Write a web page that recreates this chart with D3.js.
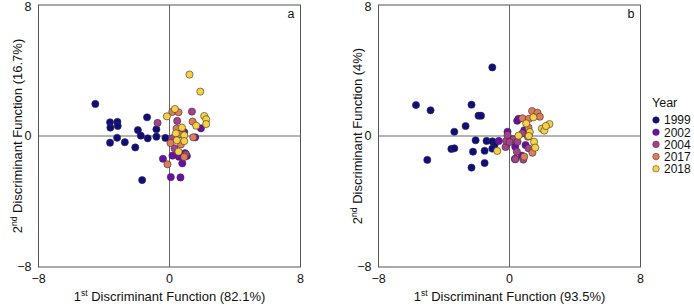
<!DOCTYPE html>
<meta charset="utf-8">
<style>
  body, html { margin:0; padding:0; background:#fff; }
  text { font-family: "Liberation Sans", Arial, Helvetica, sans-serif; fill:#111; }
</style>
<body>
<svg width="694" height="306"></svg>
<script src="https://d3js.org/d3.v7.min.js"></script>
<script>

var years = ["1999", "2002", "2004", "2017", "2018"];
var colors = ["#0f0c80", "#6c0ea8", "#a8408c", "#e07c5a", "#f8d040"];
var ticks = [-8, 0, 8];

// panel a : [DF1, DF2]
var a1999 = [[-4.53,1.96],[-3.63,0.84],[-3.18,0.86],[-3.61,0.51],[-3.16,0.61],[-1.37,1.14],[-1.93,0.36],[-1.75,0.02],
             [-0.8,0.41],[-0.8,-0.04],[-1.33,-0.14],[-0.25,-0.12],[-3.2,-0.11],[-3.63,-0.41],[-2.73,-0.38],[-2.09,-0.7],[-1.67,-2.69]];
var a2002 = [[-0.4,-1.39],[0.18,-1.2],[0.08,-2.51],[0.67,-2.53],[0.78,-1.67],[1.92,0.47],[0.57,-1.26],[1.57,-0.08],
             [0.9,0.24],[1.06,-1.22],[0.95,-1.05]];
var a2004 = [[-0.73,0.8],[1.37,1.49],[0.47,0.92],[0.31,-0.75],[1.0,-1.12],[0.15,-0.14],[0.8,0.2]];
var a2017 = [[0.17,1.47],[0.55,1.45],[1.41,0.88],[0.43,0.45],[0.06,-0.43],[-0.12,-1.73],[0.9,-1.28],[1.45,-0.08],
             [0.7,-0.51],[0.6,0.1]];
var a2018 = [[1.22,3.75],[1.88,2.71],[-0.16,1.2],[0.33,1.65],[2.12,1.22],[2.24,1.02],[2.24,0.73],[1.63,0.63],
             [0.76,0.51],[0.39,0.16],[0.9,0.04],[0.9,-0.31],[0.55,-0.96],[0.45,-0.26]];

// panel b
var b1999 = [[-5.71,1.89],[-4.82,1.57],[-1.05,4.19],[-2.32,1.91],[-1.89,1.24],[-1.74,1.24],[-2.68,0.61],[-3.37,0.26],
             [-2.07,-0.26],[-3.55,-0.79],[-3.37,-0.75],[-5.02,-1.46],[-2.23,-0.96],[-1.52,-0.9],[-2.32,-1.93],
             [-1.52,-1.65],[-1.4,-0.3],[-1.04,-0.33],[-0.91,-0.53],[-1.05,-0.77]];
var b2002 = [[-0.65,-0.3],[-0.12,0.26],[0.47,0.93],[0.55,1.05],[0.33,-1.4],[0.35,-0.65],[0.98,-0.55],[0.9,0.35],
             [0.15,-0.2],[0.75,-1.2]];
var b2004 = [[-0.24,-0.67],[-0.2,-0.3],[-0.12,0.06],[0.24,-0.2],[0,-0.37],[0.45,-0.96],[0.84,-1.44],[0.79,0.16],
             [1.16,-0.75],[0.49,-0.35],[0.35,-1.42]];
var b2017 = [[1.38,1.52],[1.71,1.42],[1.85,1.18],[0.79,1.08],[1.18,1.05],[0.9,-1.26],[1.16,0.51],[1.4,-1.02],[1.12,-0.04]];
var b2018 = [[1.02,0.77],[1.46,1.14],[1.24,0.24],[0.55,0.02],[1.18,0],[1.5,-0.35],[1.57,-0.71],[1.98,0.45],
             [2.13,0.33],[2.44,0.73],[2.22,0.61],[-0.75,-0.91]];

var panels = [
  { left: 38.5, label: "a", xpct: "82.1%", ypct: "16.7%", series: [a1999, a2002, a2004, a2017, a2018] },
  { left: 378.5, label: "b", xpct: "93.5%", ypct: "4%", series: [b1999, b2002, b2004, b2017, b2018] }
];

var svg = d3.select("svg");
var pw = 262, ph = 262, ptop = 5;

function fmt(d) { return d < 0 ? "\u2212" + (-d) : "" + d; }

panels.forEach(function(p) {
  var g = svg.append("g").attr("transform", "translate(" + p.left + "," + ptop + ")");
  var x = d3.scaleLinear().domain([-8, 8]).range([0, pw]);
  var y = d3.scaleLinear().domain([-8, 8]).range([ph, 0]);

  g.append("rect").attr("width", pw).attr("height", ph)
    .attr("fill", "none").attr("stroke", "#555").attr("stroke-width", 1);

  g.append("line").attr("x1", x(0)).attr("x2", x(0)).attr("y1", 0).attr("y2", ph)
    .attr("stroke", "#666").attr("stroke-width", 1);
  g.append("line").attr("x1", 0).attr("x2", pw).attr("y1", y(0)).attr("y2", y(0))
    .attr("stroke", "#666").attr("stroke-width", 1);

  g.selectAll(".xt").data(ticks).enter().append("text")
    .attr("x", function(d) { return x(d); }).attr("y", ph + 16)
    .attr("text-anchor", "middle").style("font-size", "12.5px").text(fmt);
  g.selectAll(".yt").data(ticks).enter().append("text")
    .attr("x", -7).attr("y", function(d) { return y(d) + (d == 8 ? 2 : 0); }).attr("dy", "0.35em")
    .attr("text-anchor", "end").style("font-size", "12.5px").text(fmt);

  var xl = g.append("text").attr("x", pw / 2).attr("y", ph + 34)
    .attr("text-anchor", "middle").style("font-size", "13px");
  xl.append("tspan").text("1");
  xl.append("tspan").attr("dy", -5).style("font-size", "8.5px").text("st");
  xl.append("tspan").attr("dy", 5).text(" Discriminant Function (" + p.xpct + ")");

  var yl = g.append("text").attr("transform", "translate(-17," + (ph / 2) + ") rotate(-90)")
    .attr("text-anchor", "middle").style("font-size", "13px");
  yl.append("tspan").text("2");
  yl.append("tspan").attr("dy", -5).style("font-size", "8.5px").text("nd");
  yl.append("tspan").attr("dy", 5).text(" Discriminant Function (" + p.ypct + ")");

  g.append("text").attr("x", pw - 6).attr("y", 13).attr("text-anchor", "end")
    .style("font-size", "12.5px").text(p.label);

  p.series.forEach(function(s, i) {
    g.append("g").selectAll("circle").data(s).enter().append("circle")
      .attr("cx", function(d) { return x(d[0]); })
      .attr("cy", function(d) { return y(d[1]); })
      .attr("r", 3.6)
      .attr("fill", colors[i])
      .attr("stroke", "#333").attr("stroke-width", 0.6);
  });
});

var legend = svg.append("g").attr("transform", "translate(651,0)");
legend.append("text").attr("x", 1).attr("y", 107).style("font-size", "12.5px").text("Year");
var li = legend.selectAll(".legend").data(years).enter().append("g")
  .attr("transform", function(d, i) { return "translate(0," + (120 + i * 12.2) + ")"; });
li.append("circle").attr("cx", 5).attr("cy", 0).attr("r", 3.3)
  .attr("fill", function(d, i) { return colors[i]; })
  .attr("stroke", "#333").attr("stroke-width", 0.5);
li.append("text").attr("x", 13).attr("dy", "0.36em").style("font-size", "12px").text(function(d) { return d; });

</script>
</body>
